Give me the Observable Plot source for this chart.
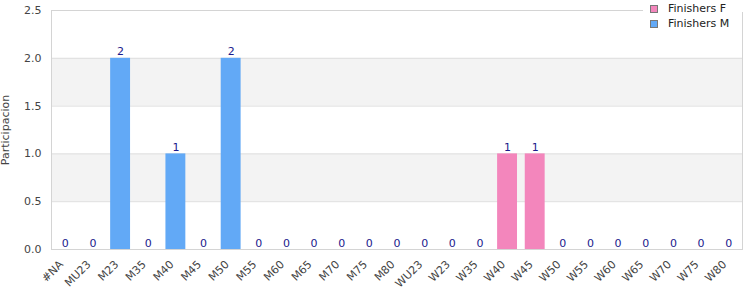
<!DOCTYPE html>
<html>
<head>
<meta charset="utf-8">
<script src="https://cdn.jsdelivr.net/npm/d3@7"></script>
<script src="https://cdn.jsdelivr.net/npm/@observablehq/plot@0.6"></script>
<style>
  body { margin: 0; background: #fff; font-family: "DejaVu Sans", sans-serif; }
  #wrap { position: relative; width: 750px; height: 300px; }
  #cover { position: absolute; left: 643px; top: 0; width: 100px; height: 12px; background: #fff; }
  #legend { position: absolute; left: 650px; top: 1px; font-size: 11px; color: #222; }
  #legend .item { display: flex; align-items: center; height: 15px; }
  #legend .sw { width: 6px; height: 6px; border: 1px solid #777; margin-right: 10px; }
</style>
</head>
<body>
<div id="wrap">
  <div id="chart"></div>
  <div id="cover"></div>
  <div id="legend"></div>
</div>
<script>
const categories = ["#NA","MU23","M23","M35","M40","M45","M50","M55","M60","M65","M70","M75","M80","WU23","W23","W35","W40","W45","W50","W55","W60","W65","W70","W75","W80"];
const finishersF = [0,0,0,0,0,0,0,0,0,0,0,0,0,0,0,0,1,1,0,0,0,0,0,0,0];
const finishersM = [0,0,2,0,1,0,2,0,0,0,0,0,0,0,0,0,0,0,0,0,0,0,0,0,0];
const seriesNames = ["Finishers F","Finishers M"];
const seriesColors = ["#f386bc","#62a9f6"];
const yTicks = [0,0.5,1,1.5,2,2.5];
const bandLow = [0.5,1.5];
const bandHigh = [1.0,2.0];

const rows = [];
categories.forEach((c,i) => {
  rows.push({cat:c, series:seriesNames[0], value:finishersF[i]});
  rows.push({cat:c, series:seriesNames[1], value:finishersM[i]});
});
const totals = categories.map((c,i) => ({cat:c, total:finishersF[i]+finishersM[i]}));
const bands = bandLow.map((lo,i)=>({lo, hi:bandHigh[i]}));

const chart = Plot.plot({
  width: 750,
  height: 300,
  marginLeft: 51,
  marginRight: 8,
  marginTop: 10,
  marginBottom: 51,
  style: {fontFamily: "DejaVu Sans, sans-serif", fontSize: "11px", color: "#444", background: "#fff"},
  x: {domain: categories, paddingInner: 0.28, paddingOuter: 0.14, round: false, label: null},
  y: {domain: [0, 2.5], ticks: yTicks, tickFormat: d3.format(".1f"), label: "Participacion", labelAnchor: "center", labelArrow: "none", tickSize: 0, tickPadding: 10, labelOffset: 50},
  color: {domain: seriesNames, range: seriesColors},
  marks: [
    Plot.rectY(bands, {y1: "lo", y2: "hi", fill: "#f3f3f3"}),
    Plot.gridY(yTicks.slice(1), {stroke: "#dedede", strokeOpacity: 1}),
    Plot.barY(rows, {x: "cat", y: "value", fill: "series", order: seriesNames}),
    Plot.text(totals, {x: "cat", y: "total", text: d => String(d.total), lineAnchor: "bottom", dy: -3, fill: "#1a1a8c", fontSize: 11}),
    Plot.axisX({tickSize: 0, tickRotate: -45, tickPadding: 13, dx: -4, label: null}),
    Plot.frame({stroke: "#d4d4d4"})
  ]
});
document.getElementById("chart").appendChild(chart);

const legend = document.getElementById("legend");
seriesNames.forEach((n,i) => {
  const it = document.createElement("div");
  it.className = "item";
  it.innerHTML = `<span class="sw" style="background:${seriesColors[i]}"></span><span>${n}</span>`;
  legend.appendChild(it);
});
</script>
</body>
</html>
